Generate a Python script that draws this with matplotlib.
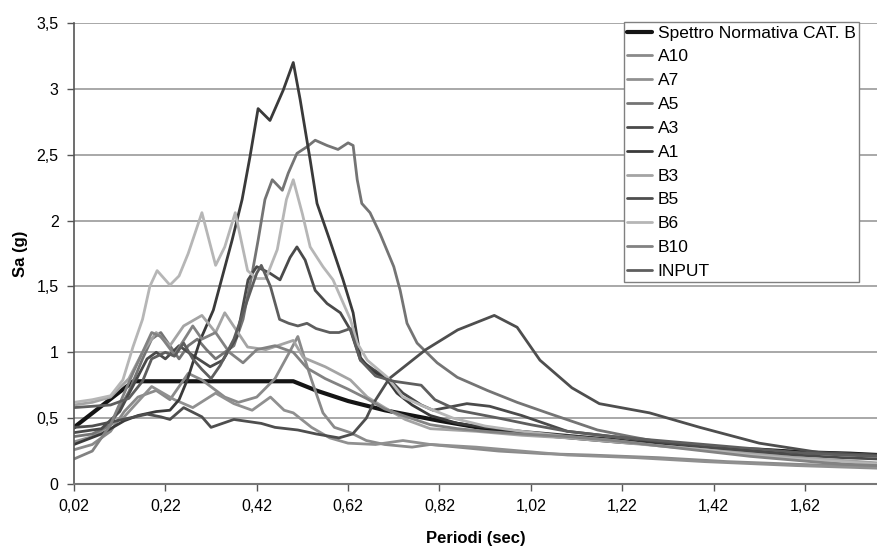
import matplotlib
matplotlib.use("Agg")
import matplotlib.pyplot as plt
from matplotlib import font_manager

# ---------------- data ----------------
LABELS = ["Spettro Normativa CAT. B", "A10", "A7", "A5", "A3", "A1",
          "B3", "B5", "B6", "B10", "INPUT"]

T_SPETTRO = [0.02, 0.15, 0.50, 0.55, 0.62, 0.70, 0.82, 0.92, 1.02, 1.12, 1.22,
             1.32, 1.42, 1.52, 1.62, 1.72, 1.78]
SA_SPETTRO = [0.43, 0.78, 0.78, 0.71, 0.63, 0.56, 0.48, 0.42, 0.38, 0.35, 0.32,
              0.30, 0.27, 0.26, 0.24, 0.23, 0.22]

T_A10 = [0.02, 0.06, 0.10, 0.13, 0.16, 0.20, 0.23, 0.27, 0.30, 0.35, 0.38, 0.42,
         0.46, 0.49, 0.51, 0.525, 0.54, 0.565, 0.59, 0.625, 0.66, 0.70, 0.76,
         0.80, 0.86, 0.95, 1.05, 1.15, 1.30, 1.45, 1.60, 1.78]
SA_A10 = [0.26, 0.30, 0.40, 0.55, 0.66, 0.71, 0.64, 0.84, 0.79, 0.66, 0.62, 0.66,
          0.80, 0.99, 1.12, 0.95, 0.79, 0.54, 0.43, 0.39, 0.33, 0.30, 0.28,
          0.30, 0.28, 0.25, 0.23, 0.22, 0.20, 0.17, 0.15, 0.13]

T_A7 = [0.02, 0.06, 0.10, 0.13, 0.19, 0.24, 0.28, 0.33, 0.37, 0.41, 0.45, 0.48,
        0.50, 0.54, 0.58, 0.62, 0.68, 0.74, 0.80, 0.90, 1.00, 1.10, 1.25, 1.40,
        1.60, 1.78]
SA_A7 = [0.32, 0.36, 0.45, 0.51, 0.74, 0.64, 0.58, 0.69, 0.61, 0.56, 0.66, 0.56,
         0.54, 0.43, 0.35, 0.31, 0.30, 0.33, 0.30, 0.28, 0.25, 0.22, 0.20, 0.17,
         0.14, 0.12]

T_A5 = [0.02, 0.06, 0.10, 0.14, 0.17, 0.19, 0.21, 0.23, 0.25, 0.27, 0.29, 0.31,
        0.33, 0.35, 0.37, 0.39, 0.41, 0.423, 0.438, 0.454, 0.476, 0.489, 0.508,
        0.53, 0.548, 0.574, 0.598, 0.62, 0.631, 0.64, 0.65, 0.668, 0.69, 0.72,
        0.734, 0.749, 0.771, 0.815, 0.859, 0.925, 0.99, 1.056, 1.166, 1.238,
        1.30, 1.40, 1.50, 1.60, 1.70, 1.78]
SA_A5 = [0.36, 0.38, 0.45, 0.70, 0.95, 1.10, 1.15, 1.05, 0.95, 1.05, 1.10, 1.02,
         0.95, 1.00, 1.05, 1.25, 1.60, 1.85, 2.16, 2.31, 2.23, 2.36, 2.51,
         2.56, 2.61, 2.57, 2.54, 2.59, 2.57, 2.31, 2.13, 2.06, 1.90, 1.65,
         1.47, 1.22, 1.07, 0.92, 0.81, 0.71, 0.62, 0.54, 0.41, 0.36,
         0.32, 0.28, 0.24, 0.20, 0.17, 0.15]

T_A3 = [0.02, 0.08, 0.12, 0.15, 0.18, 0.20, 0.22, 0.25, 0.274, 0.318, 0.346,
        0.377, 0.401, 0.42, 0.449, 0.471, 0.493, 0.508, 0.526, 0.548, 0.574,
        0.603, 0.625, 0.647, 0.675, 0.712, 0.74, 0.78, 0.806, 0.88, 0.93, 1.00,
        1.10, 1.20, 1.30, 1.40, 1.50, 1.60, 1.70, 1.78]
SA_A3 = [0.39, 0.42, 0.55, 0.75, 0.95, 1.00, 0.95, 1.05, 0.99, 0.89, 0.94,
         1.12, 1.55, 1.65, 1.60, 1.55, 1.72, 1.80, 1.70, 1.47, 1.37,
         1.30, 1.17, 0.94, 0.87, 0.79, 0.69, 0.60, 0.56, 0.61, 0.59, 0.52,
         0.40, 0.36, 0.32, 0.28, 0.25, 0.22, 0.20, 0.19]

T_A1 = [0.02, 0.08, 0.13, 0.16, 0.20, 0.23, 0.25, 0.268, 0.296, 0.325, 0.366,
        0.388, 0.405, 0.423, 0.449, 0.478, 0.50, 0.515, 0.537, 0.552, 0.58,
        0.609, 0.631, 0.647, 0.668, 0.706, 0.727, 0.76, 0.80, 0.86, 0.92, 1.00,
        1.10, 1.20, 1.30, 1.40, 1.50, 1.60, 1.70, 1.78]
SA_A1 = [0.30, 0.38, 0.48, 0.52, 0.55, 0.56, 0.64, 0.79, 1.09, 1.32, 1.85,
         2.16, 2.48, 2.85, 2.76, 2.99, 3.20, 2.92, 2.46, 2.13, 1.85,
         1.55, 1.30, 0.96, 0.87, 0.79, 0.69, 0.60, 0.52, 0.46, 0.43, 0.40,
         0.37, 0.34, 0.30, 0.26, 0.22, 0.19, 0.16, 0.15]

T_B3 = [0.02, 0.06, 0.10, 0.14, 0.17, 0.20, 0.23, 0.26, 0.30, 0.33, 0.35, 0.40,
        0.44, 0.50, 0.522, 0.57, 0.625, 0.662, 0.70, 0.745, 0.80, 0.90, 1.00,
        1.10, 1.20, 1.30, 1.40, 1.50, 1.60, 1.70, 1.78]
SA_B3 = [0.60, 0.62, 0.66, 0.80, 1.00, 1.15, 1.05, 1.20, 1.28, 1.15, 1.30, 1.04,
         1.02, 1.09, 0.96, 0.89, 0.79, 0.66, 0.58, 0.49, 0.42, 0.40, 0.37,
         0.35, 0.32, 0.29, 0.26, 0.23, 0.20, 0.18, 0.16]

T_B5 = [0.02, 0.06, 0.10, 0.14, 0.18, 0.21, 0.23, 0.26, 0.30, 0.32, 0.37, 0.43,
        0.46, 0.51, 0.55, 0.60, 0.63, 0.66, 0.675, 0.71, 0.79, 0.86, 0.94,
        0.99, 1.04, 1.11, 1.17, 1.28, 1.39, 1.52, 1.65, 1.78]
SA_B5 = [0.43, 0.44, 0.47, 0.50, 0.53, 0.51, 0.49, 0.58, 0.51, 0.43, 0.49, 0.46,
         0.43, 0.41, 0.38, 0.35, 0.38, 0.50, 0.61, 0.80, 1.02, 1.17, 1.28,
         1.19, 0.94, 0.73, 0.61, 0.54, 0.43, 0.31, 0.24, 0.22]

T_B6 = [0.02, 0.06, 0.10, 0.127, 0.149, 0.17, 0.186, 0.202, 0.23, 0.25, 0.27,
        0.30, 0.33, 0.35, 0.373, 0.40, 0.42, 0.44, 0.465, 0.485, 0.50, 0.52,
        0.537, 0.565, 0.587, 0.625, 0.64, 0.662, 0.706, 0.74, 0.785, 0.85, 0.92,
        1.00, 1.10, 1.20, 1.30, 1.40, 1.50, 1.60, 1.70, 1.78]
SA_B6 = [0.62, 0.64, 0.67, 0.79, 1.04, 1.25, 1.50, 1.62, 1.51, 1.58, 1.75,
         2.06, 1.66, 1.80, 2.06, 1.62, 1.56, 1.56, 1.78, 2.16, 2.31, 2.05,
         1.80, 1.65, 1.55, 1.25, 1.07, 0.94, 0.81, 0.66, 0.59, 0.50, 0.44,
         0.40, 0.36, 0.33, 0.29, 0.26, 0.22, 0.19, 0.17, 0.15]

T_B10 = [0.02, 0.06, 0.10, 0.15, 0.19, 0.21, 0.24, 0.28, 0.30, 0.33, 0.36, 0.39,
         0.42, 0.46, 0.50, 0.53, 0.57, 0.62, 0.66, 0.70, 0.74, 0.80, 0.86, 0.92,
         1.00, 1.10, 1.20, 1.30, 1.40, 1.50, 1.60, 1.70, 1.78]
SA_B10 = [0.19, 0.25, 0.45, 0.85, 1.15, 1.12, 0.98, 1.20, 1.10, 1.15, 1.00, 0.92,
          1.02, 1.05, 1.00, 0.88, 0.80, 0.72, 0.65, 0.57, 0.52, 0.45, 0.42, 0.40,
          0.38, 0.36, 0.33, 0.29, 0.25, 0.21, 0.18, 0.15, 0.14]

T_INPUT = [0.02, 0.10, 0.14, 0.17, 0.19, 0.22, 0.24, 0.26, 0.28, 0.30, 0.32,
           0.34, 0.37, 0.40, 0.42, 0.43, 0.45, 0.47, 0.49, 0.51, 0.53, 0.55,
           0.58, 0.60, 0.625, 0.647, 0.68, 0.72, 0.78, 0.81, 0.86, 0.95, 1.02,
           1.10, 1.20, 1.30, 1.40, 1.50, 1.60, 1.70, 1.78]
SA_INPUT = [0.58, 0.60, 0.65, 0.78, 0.95, 1.00, 0.97, 1.07, 0.95, 0.87, 0.80,
            0.90, 1.10, 1.40, 1.60, 1.66, 1.50, 1.25, 1.22, 1.20, 1.22, 1.18,
            1.15, 1.15, 1.18, 0.94, 0.82, 0.78, 0.75, 0.64, 0.56, 0.50, 0.45,
            0.40, 0.36, 0.33, 0.30, 0.27, 0.24, 0.22, 0.21]

X_TICKS = [0.02, 0.22, 0.42, 0.62, 0.82, 1.02, 1.22, 1.42, 1.62]
X_TICK_LABELS = ["0,02", "0,22", "0,42", "0,62", "0,82", "1,02", "1,22", "1,42", "1,62"]
Y_TICKS = [0, 0.5, 1, 1.5, 2, 2.5, 3, 3.5]
Y_TICK_LABELS = ["0", "0,5", "1", "1,5", "2", "2,5", "3", "3,5"]

# ---------------- styling ----------------
available = {f.name for f in font_manager.fontManager.ttflist}
base_font = "Liberation Sans" if "Liberation Sans" in available else "DejaVu Sans"
plt.rcParams["font.family"] = [base_font, "DejaVu Sans"]

SERIES = [
    (T_SPETTRO, SA_SPETTRO, "#141414", 3.0),
    (T_A10, SA_A10, "#8a8a8a", 2.0),
    (T_A7, SA_A7, "#909090", 2.0),
    (T_A5, SA_A5, "#747474", 2.0),
    (T_A3, SA_A3, "#4a4a4a", 2.0),
    (T_A1, SA_A1, "#3a3a3a", 2.0),
    (T_B3, SA_B3, "#a4a4a4", 2.0),
    (T_B5, SA_B5, "#4e4e4e", 2.0),
    (T_B6, SA_B6, "#b6b6b6", 2.0),
    (T_B10, SA_B10, "#828282", 2.0),
    (T_INPUT, SA_INPUT, "#5e5e5e", 2.0),
]

W, H = 878, 547
fig = plt.figure(figsize=(W / 100, H / 100), dpi=100)
ax = fig.add_axes([74 / W, (H - 484) / H, (W - 74) / W, (484 - 23) / H])

for (t, v, c, lw), lab in zip(SERIES, LABELS):
    ax.plot(t, v, color=c, lw=lw, label=lab, solid_joinstyle="round",
            solid_capstyle="round")

ax.set_xlim(0.02, 1.78)
ax.set_ylim(0, 3.5)
ax.set_xticks(X_TICKS)
ax.set_xticklabels(X_TICK_LABELS, fontsize=11.5)
ax.set_yticks(Y_TICKS)
ax.set_yticklabels(Y_TICK_LABELS, fontsize=11.5)
ax.tick_params(axis="both", direction="out", length=5, width=1, color="#555555",
               pad=6)
ax.yaxis.grid(True, color="#a8a8a8", lw=1.4)
ax.set_axisbelow(True)
for s in ("top", "right"):
    ax.spines[s].set_visible(False)
ax.spines["left"].set_color("#555555")
ax.spines["bottom"].set_color("#777777")
ax.spines["left"].set_linewidth(1.2)
ax.spines["bottom"].set_linewidth(1.5)

ax.set_xlabel("Periodi (sec)", fontsize=12, fontweight="bold", labelpad=12)
ax.set_ylabel("Sa (g)", fontsize=12, fontweight="bold", labelpad=6)

leg = ax.legend(loc="upper left", bbox_to_anchor=(624 / W, 1 - 22 / H),
                bbox_transform=fig.transFigure, frameon=True, fancybox=False,
                fontsize=12.5, handlelength=1.4, handletextpad=0.35,
                labelspacing=0.5, borderpad=0.2, borderaxespad=0)
leg.get_frame().set_edgecolor("#808080")
leg.get_frame().set_linewidth(1.0)
leg.get_frame().set_facecolor("white")
leg.get_frame().set_alpha(1)

fig.savefig("out.png", dpi=100)
